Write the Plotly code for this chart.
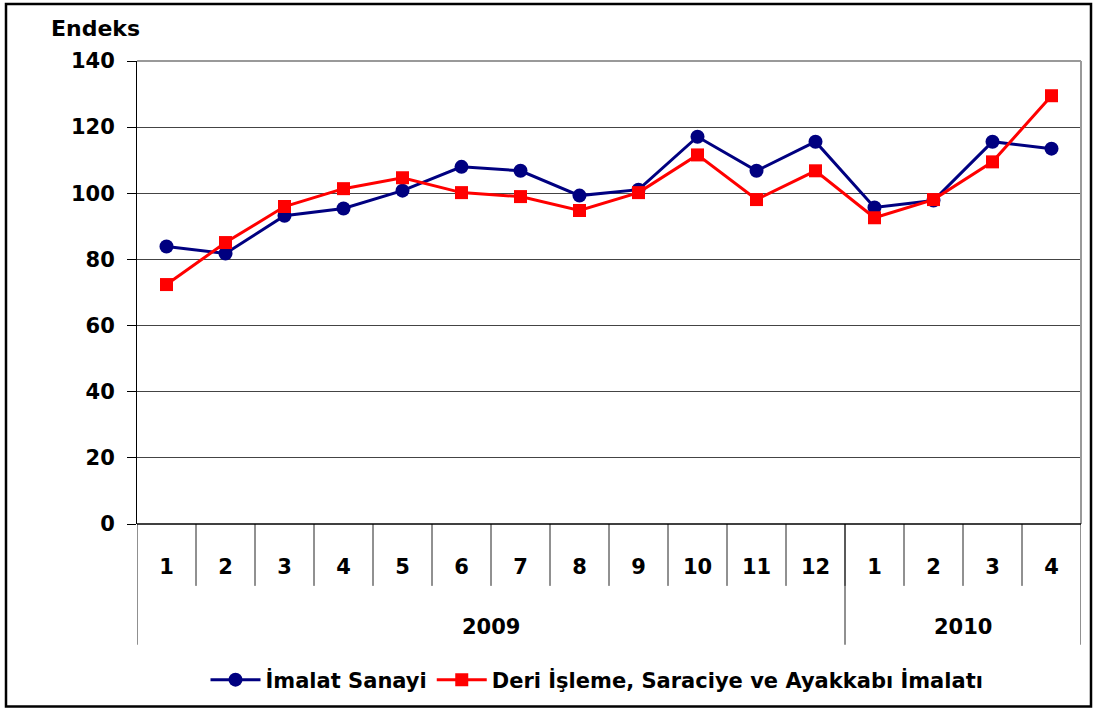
import plotly.graph_objects as go

months = ["1", "2", "3", "4", "5", "6", "7", "8", "9", "10", "11", "12", "1", "2", "3", "4"]
years = ["2009", "2010"]
year_counts = [12, 4]
imalat = [83.9, 81.8, 93.2, 95.4, 100.8, 108.0, 106.8, 99.3, 101.1, 117.1, 106.8, 115.6, 95.7, 97.8, 115.6, 113.5]
deri = [72.4, 85.1, 96.0, 101.4, 104.7, 100.2, 99.0, 94.8, 100.2, 111.6, 98.1, 106.8, 92.6, 98.1, 109.5, 129.5]
names = ["İmalat Sanayi", "Deri İşleme, Saraciye ve Ayakkabı İmalatı"]
yticks = [0, 20, 40, 60, 80, 100, 120, 140]

W, H = 1093, 711
L, R, T, B = 137, 1081, 61, 525
PW, PH = R - L, B - T

def px(x):
    return (x - L) / PW

def py(y):
    return (B - y) / PH

FONT = "DejaVu Sans, Arial, sans-serif"
xs = list(range(len(months)))

fig = go.Figure()
fig.add_trace(go.Scatter(x=xs, y=imalat, name=names[0], mode="lines+markers",
                         line=dict(color="#000080", width=3),
                         marker=dict(symbol="circle", size=14, color="#000080")))
fig.add_trace(go.Scatter(x=xs, y=deri, name=names[1], mode="lines+markers",
                         line=dict(color="#FF0000", width=3),
                         marker=dict(symbol="square", size=13, color="#FF0000")))

shapes = []
# month dividers
for i in range(1, len(months)):
    shapes.append(dict(type="line", xref="x", yref="paper", x0=i - 0.5, x1=i - 0.5,
                       y0=0, y1=py(587), line=dict(color="#222222", width=1)))
# year dividers
bounds = [-0.5]
for c in year_counts:
    bounds.append(bounds[-1] + c)
for b in bounds:
    shapes.append(dict(type="line", xref="x", yref="paper", x0=b, x1=b,
                       y0=0, y1=py(646), line=dict(color="#222222", width=1)))
# plot border (top/right)
shapes.append(dict(type="line", xref="paper", yref="paper", x0=0, x1=1, y0=1, y1=1,
                   line=dict(color="#999999", width=2)))
shapes.append(dict(type="line", xref="paper", yref="paper", x0=1, x1=1, y0=0, y1=1,
                   line=dict(color="#999999", width=2)))
# outer border
shapes.append(dict(type="rect", xref="paper", yref="paper", x0=px(6), x1=px(1091),
                   y0=py(4), y1=py(708), line=dict(color="#000000", width=2.5)))
# x-axis baseline
shapes.append(dict(type="line", xref="paper", yref="paper", x0=0, x1=1, y0=0, y1=0,
                   line=dict(color="#000", width=1.5)))

annotations = [dict(text="Endeks", xref="paper", yref="paper", x=px(49), y=py(28),
                    xanchor="left", yanchor="middle", showarrow=False,
                    font=dict(family=FONT, size=22, color="#000", weight="bold"))]
for i, yr in enumerate(years):
    cx = (bounds[i] + bounds[i + 1]) / 2
    annotations.append(dict(text=yr, xref="x", yref="paper", x=cx, y=py(628),
                            xanchor="center", yanchor="middle", showarrow=False,
                            font=dict(family=FONT, size=21, color="#000", weight="bold")))

fig.update_layout(
    width=W, height=H,
    margin=dict(l=L, r=W - R, t=T, b=H - B),
    paper_bgcolor="white", plot_bgcolor="white",
    showlegend=True,
    legend=dict(orientation="h", x=px(597), xanchor="center", y=py(680), yanchor="middle",
                font=dict(family=FONT, size=21, color="#000", weight="bold"),
                itemwidth=50, tracegroupgap=0),
    shapes=shapes, annotations=annotations,
    xaxis=dict(range=[-0.5, len(months) - 0.5], tickvals=xs, ticktext=months,
               showgrid=False, zeroline=False, showline=False, ticks="",
               ticklabelstandoff=28,
               tickfont=dict(family=FONT, size=21, color="#000", weight="bold")),
    yaxis=dict(range=[0, 140], tickvals=yticks, showgrid=True, gridcolor="#444444", gridwidth=1,
               zeroline=False, showline=True, linecolor="#000", linewidth=1,
               ticks="outside", ticklen=9, tickcolor="#000", ticklabelstandoff=8,
               tickfont=dict(family=FONT, size=21, color="#000", weight="bold")),
)

fig.write_html("out.html", config={"displayModeBar": False},
               post_script="document.body.style.margin='0';document.body.style.overflow='hidden';")
